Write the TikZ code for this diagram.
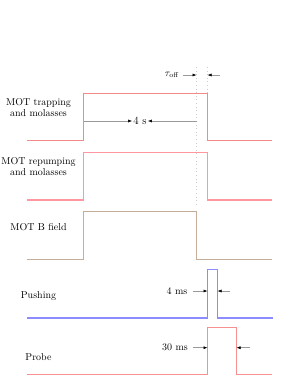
\documentclass[tikz,border=0pt]{standalone}
\usetikzlibrary{arrows.meta}
\definecolor{ctrap}{RGB}{242,138,138}
\definecolor{crep}{RGB}{255,150,160}
\definecolor{cbf}{RGB}{196,174,152}
\definecolor{cpush}{RGB}{140,140,255}
\definecolor{cprobe}{RGB}{247,144,144}
\begin{document}
\begin{tikzpicture}[x=1pt,y=-1pt,
  trace/.style={line width=1.1pt},
  lbl/.style={font=\fontsize{10}{11.3}\selectfont, align=center, inner sep=0pt},
  dim/.style={draw=gray!80, line width=0.5pt, -{Latex[length=4pt,width=3pt,color=black]}},
  guide/.style={draw=gray!40, dash pattern=on 0.6pt off 3pt, line width=0.5pt}]
\useasboundingbox (0,0) rectangle (291,376);
% traces
\draw[trace, ctrap] (27,140.5) -- (83.5,140.5) -- (83.5,93.5) -- (207.5,93.5) -- (207.5,140.5) -- (272,140.5);
\draw[trace, crep] (27,200) -- (83.5,200) -- (83.5,152.5) -- (207.5,152.5) -- (207.5,200) -- (272,200);
\draw[trace, cbf] (27,259.5) -- (83.5,259.5) -- (83.5,211.5) -- (196.5,211.5) -- (196.5,259.5) -- (272,259.5);
\draw[trace, cpush] (27,318) -- (207.5,318) -- (207.5,269.5) -- (217.5,269.5) -- (217.5,318) -- (273,318);
\draw[trace, cprobe] (27,374.5) -- (207.5,374.5) -- (207.5,327.5) -- (236.5,327.5) -- (236.5,374.5) -- (272,374.5);
% guides
\coordinate (g1t) at (196.5,67); \coordinate (g1b) at (196.5,207);
\coordinate (g2t) at (207.5,67); \coordinate (g2b) at (207.5,93);
\draw[guide] (g1t) -- (g1b);
\draw[guide] (g2t) -- (g2b);
% labels
\node[lbl] (l1) at (38.5,107.5) {MOT trapping\\and molasses};
\node[lbl] (l2) at (38.5,166.5) {MOT repumping\\and molasses};
\node[lbl] (l3) at (38.5,227) {MOT B field};
\node[lbl] (l4) at (38.5,296) {Pushing};
\node[lbl] (l5) at (38.5,356.7) {Probe};
% 4 s
\node[lbl, inner xsep=1pt, font=\fontsize{11}{12}\selectfont] (fs) at (140,121) {4 s};
\coordinate (fsL) at (83.5,121); \coordinate (fsR) at (196.5,121);
\draw[dim] (fsL) -- (fs.west);
\draw[dim] (fsR) -- (fs.east);
% tau off
\node[lbl] (tau) at (172,75) {$\tau_{\mathrm{off}}$};
\coordinate (tauA) at (183,75); \coordinate (tauB) at (196.5,75);
\coordinate (tauC) at (220,75); \coordinate (tauD) at (207.5,75);
\draw[dim] (tauA) -- (tauB);
\draw[dim] (tauC) -- (tauD);
% 4 ms
\node[lbl] (fms) at (177,291) {4 ms};
\coordinate (pA) at (193,291); \coordinate (pB) at (207.5,291);
\coordinate (pC) at (230,291); \coordinate (pD) at (217.5,291);
\draw[dim] (pA) -- (pB);
\draw[dim] (pC) -- (pD);
% 30 ms
\node[lbl] (tms) at (175,347.7) {30 ms};
\coordinate (qA) at (193,347.7); \coordinate (qB) at (207.5,347.7);
\coordinate (qC) at (250,347.7); \coordinate (qD) at (236.5,347.7);
\draw[dim] (qA) -- (qB);
\draw[dim] (qC) -- (qD);
\end{tikzpicture}
\end{document}
